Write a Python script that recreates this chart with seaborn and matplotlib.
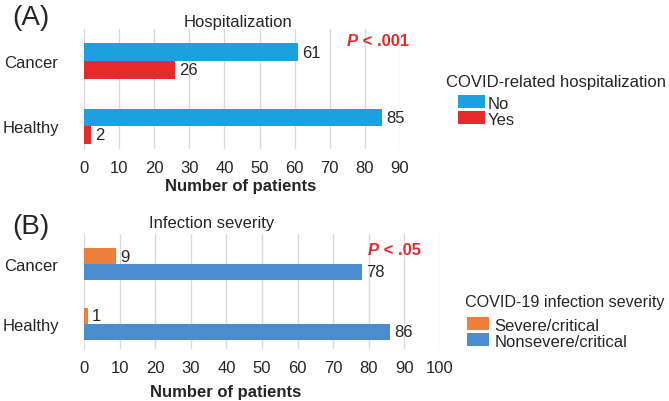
import matplotlib
matplotlib.use("Agg")
import matplotlib.pyplot as plt
import seaborn as sns
import pandas as pd

# ---- data ----
groups = ["Cancer", "Healthy"]
hosp_levels = ["No", "Yes"]
hosp_no = [61, 85]
hosp_yes = [26, 2]
sev_levels = ["Severe/critical", "Nonsevere/critical"]
sev_severe = [9, 1]
sev_nonsevere = [78, 86]
xticks_a = [0, 10, 20, 30, 40, 50, 60, 70, 80, 90]
xticks_b = [0, 10, 20, 30, 40, 50, 60, 70, 80, 90, 100]

df_a = pd.DataFrame({
    "group": groups * 2,
    "status": [hosp_levels[0]] * 2 + [hosp_levels[1]] * 2,
    "n": hosp_no + hosp_yes,
})
df_b = pd.DataFrame({
    "group": groups * 2,
    "status": [sev_levels[0]] * 2 + [sev_levels[1]] * 2,
    "n": sev_severe + sev_nonsevere,
})

sns.set_style("white")
plt.rcParams["font.family"] = ["Liberation Sans", "DejaVu Sans"]
FS = 12

fig = plt.figure(figsize=(6.69, 4.02), dpi=100)
W, H = 669, 402

def fx(px):
    return px / W

def fy(py):
    return 1 - py / H

ax_a = fig.add_axes([fx(84), fy(150), fx(400) - fx(84), fy(30) - fy(150)])
ax_b = fig.add_axes([fx(84), fy(350), fx(440) - fx(84), fy(235) - fy(350)])

pal_a = {"No": "#1da1dc", "Yes": "#e62a2c"}
pal_b = {"Severe/critical": "#ee7f3a", "Nonsevere/critical": "#4a8ecf"}

sns.barplot(data=df_a, y="group", x="n", hue="status", order=groups,
            hue_order=hosp_levels, palette=pal_a, orient="h", width=0.54,
            saturation=1, linewidth=0, ax=ax_a, legend=True)
sns.barplot(data=df_b, y="group", x="n", hue="status", order=groups,
            hue_order=sev_levels, palette=pal_b, orient="h", width=0.53,
            saturation=1, linewidth=0, ax=ax_b, legend=True)

for ax, ticks, ylim in [(ax_a, xticks_a, (1.35, -0.49)), (ax_b, xticks_b, (1.42, -0.5))]:
    ax.patch.set_alpha(0)
    ax.set_xlim(ticks[0], ticks[-1])
    ax.set_ylim(*ylim)
    ax.set_xticks(ticks)
    ax.grid(axis="x", color="#d9d9d9", linewidth=1)
    ax.set_axisbelow(True)
    for s in ax.spines.values():
        s.set_visible(False)
    ax.tick_params(axis="both", length=0, labelsize=FS)
    ax.tick_params(axis="x", pad=8)
    ax.tick_params(axis="y", pad=38)
    for lab in ax.get_yticklabels():
        lab.set_ha("center")
    ax.set_xlabel("")
    ax.set_ylabel("")
    for c in ax.containers:
        ax.bar_label(c, padding=3, fontsize=FS, fmt="%d")

# legends (titles as separate texts for exact placement)
h, l = ax_a.get_legend_handles_labels()
ax_a.legend(h, l, loc="center left",
            bbox_to_anchor=(fx(458), fy(112)), bbox_transform=fig.transFigure,
            frameon=False, fontsize=FS, handlelength=1.6,
            handleheight=0.8, labelspacing=0.05, handletextpad=0.15,
            borderpad=0, borderaxespad=0)
fig.text(fx(446), fy(82), "COVID-related hospitalization", ha="left",
         va="center", fontsize=FS)
h, l = ax_b.get_legend_handles_labels()
ax_b.legend(h, l, loc="center left",
            bbox_to_anchor=(fx(467), fy(334)), bbox_transform=fig.transFigure,
            frameon=False, fontsize=FS, handlelength=1.3,
            handleheight=0.8, labelspacing=0.05, handletextpad=0.35,
            borderpad=0, borderaxespad=0)
fig.text(fx(465), fy(302), "COVID-19 infection severity", ha="left",
         va="center", fontsize=11.6)

# titles, labels
fig.text(fx(238), fy(23), "Hospitalization", ha="center", va="center", fontsize=FS)
fig.text(fx(212), fy(224), "Infection severity", ha="center", va="center", fontsize=FS)
fig.text(fx(241), fy(187), "Number of patients", ha="center", va="center",
         fontsize=FS, fontweight="bold")
fig.text(fx(226), fy(393), "Number of patients", ha="center", va="center",
         fontsize=FS, fontweight="bold")
fig.text(fx(12), fy(18), "(A)", ha="left", va="center", fontsize=20)
fig.text(fx(12), fy(227), "(B)", ha="left", va="center", fontsize=20)

# p-values
red = "#e62a2c"
for x0, y0, txt in [(347, 42, " < .001"), (368, 251, " < .05")]:
    t1 = fig.text(fx(x0), fy(y0), "P", ha="left", va="center", fontsize=FS,
                  fontweight="bold", fontstyle="italic", color=red)
    fig.add_artist(matplotlib.text.Annotation(
        txt, xy=(1, 0.5), xycoords=t1, ha="left", va="center",
        fontsize=FS, fontweight="bold", color=red, annotation_clip=False))

fig.savefig("out.png", dpi=100)
